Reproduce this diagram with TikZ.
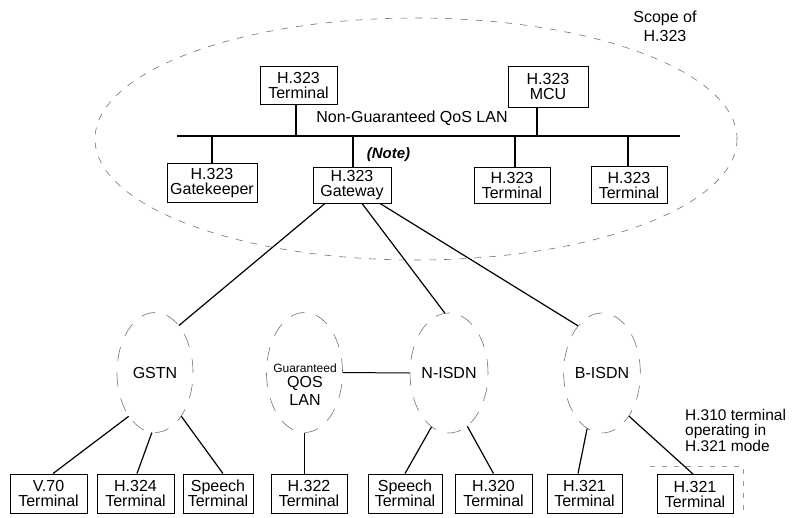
\documentclass[tikz,border=0pt]{standalone}
\usepackage{fontspec}
\setmainfont{Liberation Sans}
\usetikzlibrary{shapes.geometric}
\begin{document}
\begin{tikzpicture}[x=1pt,y=-1pt,
  box/.style={draw, line width=0.9pt, inner sep=0pt, minimum height=38pt, align=center, font=\fontsize{16}{15}\selectfont},
  net/.style={ellipse, draw=black!55, line width=0.6pt, dash pattern=on 14pt off 12pt, minimum width=76pt, minimum height=120pt, inner sep=0pt, font=\fontsize{16}{16}\selectfont},
  link/.style={line width=1.2pt},
  lanline/.style={line width=1.4pt},
  scopeline/.style={draw=black!55, line width=0.6pt, dash pattern=on 7pt off 8pt},
  faint/.style={draw=black!40, line width=0.6pt, dash pattern=on 5pt off 7pt},
  lbl/.style={inner sep=0pt, align=center, font=\fontsize{16}{16}\selectfont}
]
\useasboundingbox (0,0) rectangle (798,517);

% scope ellipse
\draw[scopeline] (416,139) ellipse [x radius=321, y radius=121];
\node[lbl, font=\fontsize{16}{19}\selectfont] (scope) at (665,26.5) {Scope of\\H.323};

% LAN
\coordinate (lanL) at (177,136);
\coordinate (lanR) at (680,136);
\draw[lanline] (lanL) -- (lanR);
\node[lbl] (lantext) at (412,118) {Non-Guaranteed QoS LAN};

% top boxes
\node[box, minimum width=77pt] (t1) at (298.5,85) {H.323\\Terminal};
\node[box, minimum width=80pt, minimum height=41pt] (mcu) at (548,86.5) {H.323\\MCU};
\node[box, minimum width=90pt, minimum height=39pt] (gk) at (212,183) {H.323\\Gatekeeper};
\node[box, minimum width=78pt, minimum height=36pt] (gw) at (352,185) {H.323\\Gateway};
\node[box, minimum width=76pt, minimum height=36pt] (t3) at (512,185) {H.323\\Terminal};
\node[box, minimum width=76pt, minimum height=37pt] (t4) at (629,185) {H.323\\Terminal};
\node[lbl, font=\fontsize{15}{15}\selectfont\bfseries\itshape] (note) at (388.5,155) {(Note)};

\draw[link] ([xshift=-2.5pt]t1.south) -- ([xshift=-2.5pt]t1.south |- lanL);
\draw[link] ([xshift=-11pt]mcu.south) -- ([xshift=-11pt]mcu.south |- lanL);
\draw[link] (gk.north) -- (gk.north |- lanL);
\draw[link] ([xshift=1pt]gw.north) -- ([xshift=1pt]gw.north |- lanL);
\draw[link] ([xshift=3pt]t3.north) -- ([xshift=3pt]t3.north |- lanL);
\draw[link] ([xshift=-1pt]t4.north) -- ([xshift=-1pt]t4.north |- lanL);

% networks
\node[net] (gstn) at (155,372.5) {GSTN};
\node[net] (qos) at (304.5,372.5) {};
\node[lbl] (qostext) at (305,385) {{\fontsize{12}{12}\selectfont Guaranteed}\\[-1pt]QOS\\[2pt]LAN};
\node[net] (nisdn) at (449,373) {N-ISDN};
\node[net] (bisdn) at (602,373) {B-ISDN};

\draw[link] ([xshift=-27pt]gw.south) -- (gstn.63);
\draw[link] ([xshift=10pt]gw.south) -- (nisdn.94);
\draw[link] ([xshift=28pt]gw.south) -- (bisdn.117);
\draw[line width=1pt] (qos.east) -- (nisdn.west);

% bottom boxes
\node[box, minimum width=77pt, minimum height=39pt] (v70) at (48.5,493.5) {V.70\\Terminal};
\node[box, minimum width=77pt, minimum height=39pt] (h324) at (135.5,493.5) {H.324\\Terminal};
\node[box, minimum width=70pt, minimum height=39pt] (sp1) at (218,493.5) {Speech\\Terminal};
\node[box, minimum width=76pt, minimum height=39pt] (h322) at (309,493.5) {H.322\\Terminal};
\node[box, minimum width=74pt, minimum height=39pt] (sp2) at (405,493.5) {Speech\\Terminal};
\node[box, minimum width=77pt, minimum height=39pt] (h320) at (493.5,493.5) {H.320\\Terminal};
\node[box, minimum width=75pt, minimum height=39pt] (h321a) at (584.5,493.5) {H.321\\Terminal};
\node[box, minimum width=76pt, minimum height=39pt] (h321b) at (695,494) {H.321\\Terminal};

\draw[link] (gstn.239) -- ([xshift=4.5pt]v70.north);
\draw[link] (gstn.267) -- ([xshift=1.5pt]h324.north);
\draw[link] (gstn.301) -- ([xshift=5pt]sp1.north);
\draw[link] (qos.south) -- ([xshift=-4.5pt]h322.north);
\draw[link] (nisdn.252) -- (sp2.north);
\draw[link] (nisdn.289) -- (h320.north);
\draw[link] (bisdn.255) -- ([xshift=-6.5pt]h321a.north);
\draw[link] (bisdn.302) -- ([xshift=-2pt]h321b.north);

% H.310 terminal outline (partial, faint)
\coordinate (h310a) at (650,466);
\coordinate (h310b) at (743,466);
\coordinate (h310c) at (743,512);
\draw[faint] (h310a) -- (h310b) -- (h310c);
\node[lbl, align=left, anchor=west, font=\fontsize{15.5}{15.5}\selectfont] (h310) at (685,430) {H.310 terminal\\operating in\\H.321 mode};
\end{tikzpicture}
\end{document}
